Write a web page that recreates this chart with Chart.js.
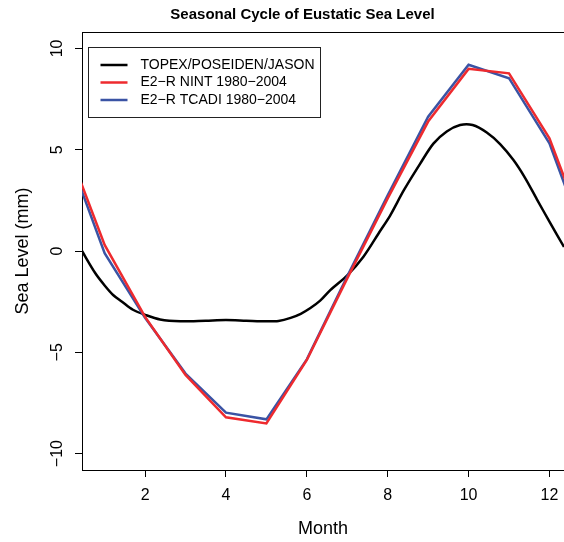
<!DOCTYPE html>
<html>
<head>
<meta charset="utf-8">
<script src="https://cdn.jsdelivr.net/npm/chart.js@4"></script>
<style>
html,body{margin:0;padding:0;background:#fff;}
#wrap{width:564px;height:542px;position:relative;}
</style>
</head>
<body>
<div id="wrap"><canvas id="c" width="564" height="542"></canvas></div>
<script>
// ---- data ----
const chartTitle = "Seasonal Cycle of Eustatic Sea Level";
const xTitle = "Month";
const yTitle = "Sea Level (mm)";
const xTicks = [2, 4, 6, 8, 10, 12];
const yTicks = [-10, -5, 0, 5, 10];

// monthly model values (months 1..12), wrapped at both ends
const months = [0, 1, 2, 3, 4, 5, 6, 7, 8, 9, 10, 11, 12, 13];
const nintMonthly = [0.3, -3.25, -6.12, -8.21, -8.51, -5.38, -1.35, 2.6, 6.39, 8.99, 8.77, 5.56];
const tcadiMonthly = [-0.11, -3.3, -6.05, -7.98, -8.31, -5.35, -1.25, 2.75, 6.63, 9.19, 8.53, 5.32];

// altimetry curve (dense sampling)
const topexMonths = [0.44, 0.77, 1.0, 1.21, 1.43, 1.7, 2.0, 2.37, 2.87, 3.5, 4.0, 4.5, 5.0, 5.3, 5.6, 5.85, 6.08, 6.33, 6.58, 7.0, 7.4, 7.8, 8.06, 8.4, 8.8, 9.13, 9.46, 9.79, 10.1, 10.45, 10.78, 11.11, 11.4, 11.69, 12.0, 12.36];
const topexValues = [0, -1.1, -1.7, -2.17, -2.5, -2.9, -3.15, -3.38, -3.47, -3.44, -3.41, -3.44, -3.47, -3.45, -3.3, -3.1, -2.83, -2.45, -1.93, -1.2, -0.28, 0.95, 1.75, 3.0, 4.3, 5.3, 5.9, 6.22, 6.22, 5.85, 5.28, 4.49, 3.6, 2.55, 1.45, 0.2];

const seriesLabels = ["TOPEX/POSEIDEN/JASON", "E2\u2212R NINT 1980\u22122004", "E2\u2212R TCADI 1980\u22122004"];
const seriesColors = ["#000000", "#ee2a2e", "#3a53a4"];

const wrap = arr => [arr[arr.length - 1], ...arr, arr[0]];
const toPts = (xs, ys) => xs.map((x, i) => ({x: x, y: ys[i]}));

const FONT = "'Liberation Sans', Arial, Helvetica, sans-serif";

const titlePlugin = {
  id: 'rtitle',
  afterDraw(chart) {
    const ctx = chart.ctx;
    ctx.save();
    ctx.font = "bold 15px " + FONT;
    ctx.fillStyle = "#000";
    ctx.textAlign = "center";
    ctx.textBaseline = "alphabetic";
    ctx.fillText(chartTitle, 302.5, 18.5);
    ctx.restore();
  }
};

const legendPlugin = {
  id: 'rlegend',
  afterDatasetsDraw(chart) {
    const ctx = chart.ctx;
    const a = chart.chartArea;
    const bx = a.left + 6.5, by = a.top + 15.5, bw = 232, bh = 70;
    ctx.save();
    ctx.fillStyle = "#fff";
    ctx.fillRect(bx, by, bw, bh);
    ctx.strokeStyle = "#222";
    ctx.lineWidth = 1;
    ctx.strokeRect(bx, by, bw, bh);
    ctx.font = "14px " + FONT;
    ctx.textBaseline = "middle";
    ctx.textAlign = "left";
    for (let i = 0; i < seriesLabels.length; i++) {
      const yy = by + 17.5 + i * 17.5;
      ctx.strokeStyle = seriesColors[i];
      ctx.lineWidth = 2.5;
      ctx.beginPath();
      ctx.moveTo(bx + 12, yy);
      ctx.lineTo(bx + 39, yy);
      ctx.stroke();
      ctx.fillStyle = "#000";
      ctx.fillText(seriesLabels[i], bx + 52, yy);
    }
    ctx.restore();
  }
};

new Chart(document.getElementById('c'), {
  type: 'line',
  data: {
    datasets: [
      {label: seriesLabels[1], data: toPts(months, wrap(nintMonthly)), borderColor: seriesColors[1], borderWidth: 2.5, pointRadius: 0, tension: 0, clip: 0},
      {label: seriesLabels[2], data: toPts(months, wrap(tcadiMonthly)), borderColor: seriesColors[2], borderWidth: 2.5, pointRadius: 0, tension: 0, clip: 0},
      {label: seriesLabels[0], data: toPts(topexMonths, topexValues), borderColor: seriesColors[0], borderWidth: 2.5, pointRadius: 0, tension: 0.3, clip: 0}
    ]
  },
  options: {
    responsive: false,
    animation: false,
    devicePixelRatio: 1,
    layout: {padding: {top: 32, right: 0, bottom: 0, left: 0}},
    plugins: {legend: {display: false}, title: {display: false}, tooltip: {enabled: false}},
    scales: {
      x: {
        type: 'linear', position: 'bottom', min: 0.44, max: 12.36,
        afterBuildTicks: s => { s.ticks = xTicks.map(v => ({value: v})); },
        afterFit: s => { s.height = 72; s.paddingLeft = 0; s.paddingRight = 0; },
        ticks: {font: {family: FONT, size: 16}, color: '#000', padding: 9, maxRotation: 0, autoSkip: false},
        grid: {drawOnChartArea: false, drawTicks: true, tickLength: 7, color: '#000', lineWidth: 1},
        border: {display: true, color: '#000', width: 1},
        title: {display: true, text: xTitle, color: '#000', font: {family: FONT, size: 18}, padding: {top: 2, bottom: 2}}
      },
      xTop: {
        type: 'linear', position: 'top', min: 0.44, max: 12.36,
        ticks: {display: false},
        grid: {display: false},
        border: {display: true, color: '#000', width: 1},
        afterFit: s => { s.height = 0; s.paddingLeft = 0; s.paddingRight = 0; }
      },
      y: {
        type: 'linear', position: 'left', min: -10.81, max: 10.81,
        afterBuildTicks: s => { s.ticks = yTicks.map(v => ({value: v})); },
        afterFit: s => { s.width = 82; s.paddingTop = 0; s.paddingBottom = 0; },
        ticks: {font: {family: FONT, size: 16}, color: '#000', padding: 4, minRotation: 90, maxRotation: 90, crossAlign: 'center', autoSkip: false,
          callback: v => String(v).replace('-', '\u2212')},
        grid: {drawOnChartArea: false, drawTicks: true, tickLength: 7, color: '#000', lineWidth: 1},
        border: {display: true, color: '#000', width: 1},
        title: {display: true, text: yTitle, color: '#000', font: {family: FONT, size: 18}, padding: {top: 12, bottom: 12}}
      }
    }
  },
  plugins: [titlePlugin, legendPlugin]
});
</script>
</body>
</html>
